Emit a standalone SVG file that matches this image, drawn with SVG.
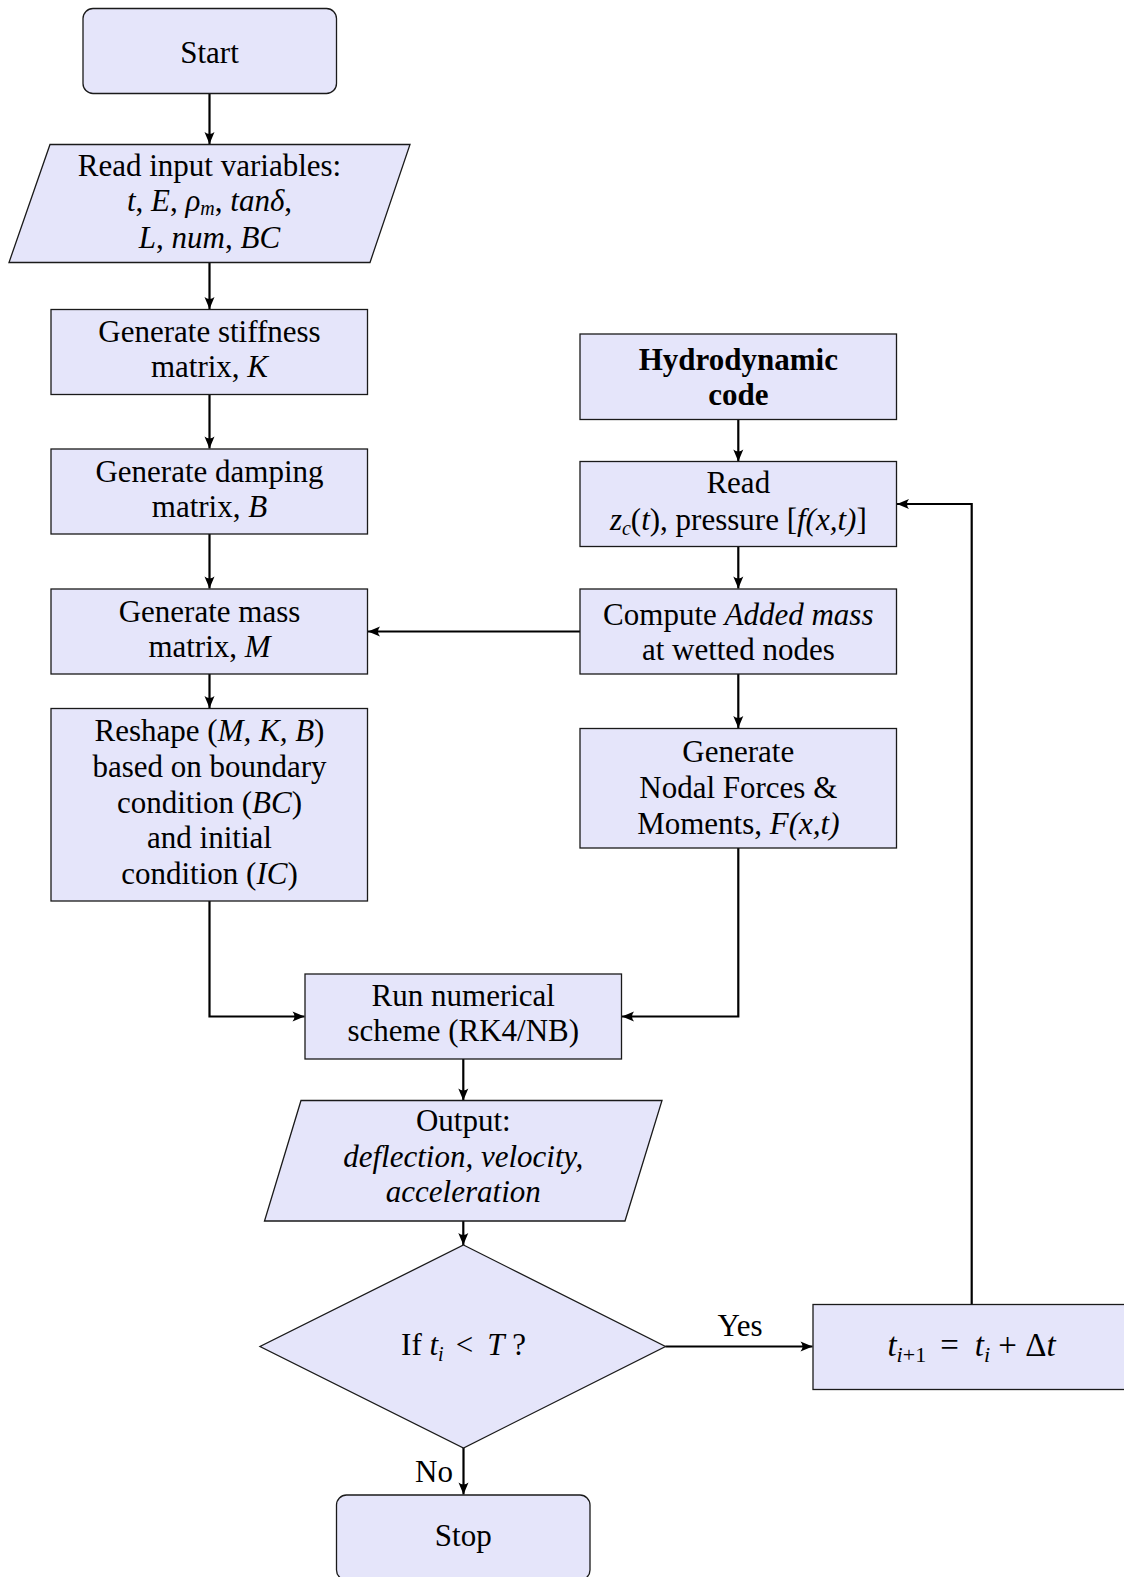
<svg xmlns="http://www.w3.org/2000/svg" width="1124" height="1577" viewBox="0 0 1124 1577">
<style>
.node{fill:#E5E5FA;stroke:#1a1a1a;stroke-width:1.3}
.edge{fill:none;stroke:#000;stroke-width:2.2;marker-end:url(#arr)}
text{font-family:"Liberation Serif","Times New Roman",serif;font-size:31px;fill:#000;text-anchor:middle}
.i{font-style:italic}
.b{font-weight:bold}
.s{font-size:20px}
.big{font-size:33px}
.bs{font-size:22px}
</style>
<defs>
<marker id="arr" markerUnits="userSpaceOnUse" markerWidth="13" markerHeight="11" viewBox="0 0 13 11" refX="12.5" refY="5.5" orient="auto">
<path d="M12.5,5.5 L0.5,0.5 Q4.5,5.5 0.5,10.5 Z" fill="#000"/>
</marker>
</defs>
<rect width="1124" height="1577" fill="#fff"/>
<g id="connectors">
<path class="edge" d="M209.5,93.5 V144"/>
<path class="edge" d="M209.5,262.5 V309"/>
<path class="edge" d="M209.5,394.5 V448.5"/>
<path class="edge" d="M209.5,534 V588.5"/>
<path class="edge" d="M209.5,674 V708"/>
<path class="edge" d="M209.5,901 V1016.5 H304.5"/>
<path class="edge" d="M738.3,419.5 V461.5"/>
<path class="edge" d="M738.3,546.5 V588.5"/>
<path class="edge" d="M580,631.5 H368"/>
<path class="edge" d="M738.3,674 V728"/>
<path class="edge" d="M738.3,848 V1016.5 H622"/>
<path class="edge" d="M463.3,1059 V1100.5"/>
<path class="edge" d="M463.3,1221 V1245"/>
<path class="edge" d="M665.5,1346.5 H812.5"/>
<path class="edge" d="M463.5,1448 V1494.5"/>
<path class="edge" d="M971.7,1304.5 V504 H897"/>
<text x="740" y="1336">Yes</text>
<text x="434" y="1482">No</text>
</g>
<g id="start">
<rect class="node" x="83" y="8.5" width="253.5" height="85" rx="10"/>
<text x="209.5" y="62.5">Start</text>
</g>
<g id="read-input">
<polygon class="node" points="50,144.5 410,144.5 370,262.5 9,262.5"/>
<text x="209.5" y="176">Read input variables:</text>
<text x="209.5" y="211"><tspan class="i">t</tspan>, <tspan class="i">E</tspan>, <tspan class="i">ρ</tspan><tspan class="i s" dy="4">m</tspan><tspan dy="-4">, </tspan><tspan class="i">tanδ</tspan>,</text>
<text x="209.5" y="247.5"><tspan class="i">L</tspan>, <tspan class="i">num</tspan>, <tspan class="i">BC</tspan></text>
</g>
<g id="stiffness">
<rect class="node" x="51" y="309.5" width="316.5" height="85"/>
<text x="209.5" y="342">Generate stiffness</text>
<text x="209.5" y="377">matrix, <tspan class="i">K</tspan></text>
</g>
<g id="damping">
<rect class="node" x="51" y="449" width="316.5" height="85"/>
<text x="209.5" y="481.5">Generate damping</text>
<text x="209.5" y="517">matrix, <tspan class="i">B</tspan></text>
</g>
<g id="mass">
<rect class="node" x="51" y="589" width="316.5" height="85"/>
<text x="209.5" y="621.5">Generate mass</text>
<text x="209.5" y="656.5">matrix, <tspan class="i">M</tspan></text>
</g>
<g id="reshape">
<rect class="node" x="51" y="708.5" width="316.5" height="192.5"/>
<text x="209.5" y="741">Reshape (<tspan class="i">M, K, B</tspan>)</text>
<text x="209.5" y="776.5">based on boundary</text>
<text x="209.5" y="812.5">condition (<tspan class="i">BC</tspan>)</text>
<text x="209.5" y="848">and initial</text>
<text x="209.5" y="883.5">condition (<tspan class="i">IC</tspan>)</text>
</g>
<g id="hydro">
<rect class="node" x="580" y="334" width="316.5" height="85.5"/>
<text class="b" x="738.3" y="370">Hydrodynamic</text>
<text class="b" x="738.3" y="405">code</text>
</g>
<g id="read-pressure">
<rect class="node" x="580" y="461.5" width="316.5" height="85"/>
<text x="738.3" y="493">Read</text>
<text x="738.3" y="530"><tspan class="i">z</tspan><tspan class="i s" dy="5">c</tspan><tspan dy="-5">(</tspan><tspan class="i">t</tspan>), pressure [<tspan class="i">f(x,t)</tspan>]</text>
</g>
<g id="added-mass">
<rect class="node" x="580" y="589" width="316.5" height="85"/>
<text x="738.3" y="624.5">Compute <tspan class="i">Added mass</tspan></text>
<text x="738.3" y="659.5">at wetted nodes</text>
</g>
<g id="nodal-forces">
<rect class="node" x="580" y="728.5" width="316.5" height="119.5"/>
<text x="738.3" y="762">Generate</text>
<text x="738.3" y="798">Nodal Forces &amp;</text>
<text x="738.3" y="834">Moments, <tspan class="i">F(x,t)</tspan></text>
</g>
<g id="run-scheme">
<rect class="node" x="305" y="974" width="316.5" height="85"/>
<text x="463.3" y="1005.5">Run numerical</text>
<text x="463.3" y="1041">scheme (RK4/NB)</text>
</g>
<g id="output">
<polygon class="node" points="301,1100.5 662,1100.5 625,1221 264.5,1221"/>
<text x="463.3" y="1131">Output:</text>
<text class="i" x="463.3" y="1167">deflection, velocity,</text>
<text class="i" x="463.3" y="1202">acceleration</text>
</g>
<g id="decision">
<polygon class="node" points="463.5,1245 665.5,1346.5 463.5,1448 260,1346.5"/>
<text x="463.5" y="1355">If <tspan class="i">t</tspan><tspan class="i s" dy="6">i</tspan><tspan dy="-6" dx="12">&lt;</tspan><tspan class="i" dx="14">T</tspan> ?</text>
</g>
<g id="increment">
<rect class="node" x="813" y="1304.5" width="317.5" height="85"/>
<text class="big" x="971.5" y="1356"><tspan class="i">t</tspan><tspan class="bs" dy="6"><tspan class="i">i</tspan>+1</tspan><tspan dy="-6" dx="14">=</tspan><tspan class="i" dx="16">t</tspan><tspan class="i bs" dy="6">i</tspan><tspan dy="-6"> + Δ</tspan><tspan class="i">t</tspan></text>
</g>
<g id="stop">
<rect class="node" x="336.5" y="1495" width="253.5" height="85" rx="10"/>
<text x="463.3" y="1546">Stop</text>
</g>
</svg>
